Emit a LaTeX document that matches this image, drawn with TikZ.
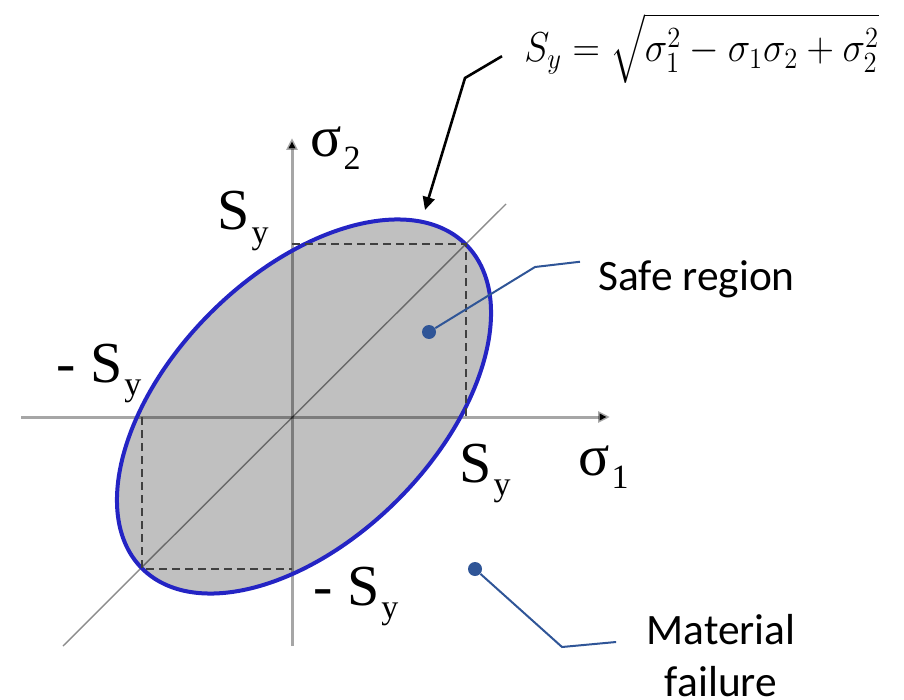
\RequirePackage{fix-cm}
\documentclass[tikz,border=0pt]{standalone}
\usepackage{amsmath}
\usepackage{fontspec}
\usepackage{tikz}
\usetikzlibrary{arrows.meta}

\newfontfamily\labfont{Liberation Serif}
\newfontfamily\notefont{Carlito}
\definecolor{safegray}{HTML}{C0C0C0}
\definecolor{rimblue}{HTML}{2424C4}
\definecolor{leadblue}{HTML}{2F5597}
\newcommand{\lowsub}[1]{\kern1pt\raisebox{-6.5pt}{\fontsize{17}{17}\selectfont #1}}

\begin{document}
\begin{tikzpicture}[
  x=0.5pt, y=-0.5pt,
  axis/.style={line width=1.5pt, draw=black, draw opacity=.35},
  axtip/.style={-{Triangle[length=6pt, width=5.5pt, fill=black]}},
  diag/.style={line width=0.7pt, draw=black, draw opacity=.45},
  safe/.style={fill=safegray},
  rim/.style={draw=rimblue, line width=2pt},
  bound/.style={draw=black!75, line width=1pt, dash pattern=on 4pt off 2.5pt},
  lab/.style={font=\labfont\fontsize{29}{32}\selectfont, inner sep=0pt, anchor=base west},
  note/.style={font=\notefont\fontsize{21.7}{26}\selectfont, inner sep=0pt},
  leader/.style={draw=leadblue, line width=1pt},
  dotmark/.style={fill=leadblue, circle, inner sep=0pt, minimum size=7pt},
  callarrow/.style={line width=1.3pt, -{Triangle[length=6.5pt, width=6pt]}}
]
\useasboundingbox (0,0) rectangle (904,700);

% axes origin, ellipse centre and corners of the square
\coordinate (O) at (292,417);
\coordinate (C) at (304,406.5);
\coordinate (TR) at (466,244);
\coordinate (BL) at (142,569);
\coordinate (xl) at (21,417);
\coordinate (xr) at (610,417);
\coordinate (yb) at (292,646);
\coordinate (yt) at (292,138);
\coordinate (dl) at (63,646);
\coordinate (du) at (506,204);

\fill[safe, rotate around={45:(C)}] (C) ellipse [x radius=229, y radius=132.3];
\draw[axis, axtip] (xl) -- (xr);
\draw[axis, axtip] (yb) -- (yt);
\draw[diag] (dl) -- (du);
\draw[rim, rotate around={45:(C)}] (C) ellipse [x radius=229, y radius=132.3];
\draw[bound] (O |- TR) -- (TR) -- (TR |- O);
\draw[bound] (BL |- O) -- (BL) -- (O |- BL);

% axis labels
\node[lab] (sytop) at (217,230) {S\lowsub{y}};
\node[lab] (syleft) at (56,382) {- S\lowsub{y}};
\node[lab] (syright) at (459,482) {S\lowsub{y}};
\node[lab] (sybot) at (313,605) {- S\lowsub{y}};
\node[lab] (sig1) at (578,475) {σ\lowsub{1}};
\node[lab] (sig2) at (310,157) {σ\lowsub{2}};

% formula and its arrow
\node[anchor=base west, inner sep=0pt] (eq) at (524,62)
  {\fontsize{19}{23}\selectfont\scalebox{1}[1.1]{$S_y=\sqrt{\sigma_1^2-\sigma_1\sigma_2+\sigma_2^2}$}};
\coordinate (eqknee) at (465,78);
\coordinate (rimhit) at (425,210);
\draw[callarrow] ([xshift=-11pt,yshift=-4pt]eq.west) -- (eqknee) -- (rimhit);

% callouts
\node[note, anchor=base west] (safe) at (598,290) {Safe region};
\node[dotmark] (safedot) at (429,332) {};
\coordinate (safeknee) at (535,267);
\draw[leader] (safedot) -- (safeknee) -- ([xshift=-9pt,yshift=-1pt]safe.north west);

\node[note, align=center, anchor=north] (fail) at (721,614) {Material\\failure};
\node[dotmark] (faildot) at (475,569) {};
\coordinate (failknee) at (562,647);
\draw[leader] (faildot) -- (failknee) -- ([xshift=-15pt,yshift=-14pt]fail.north west);
\end{tikzpicture}
\end{document}
